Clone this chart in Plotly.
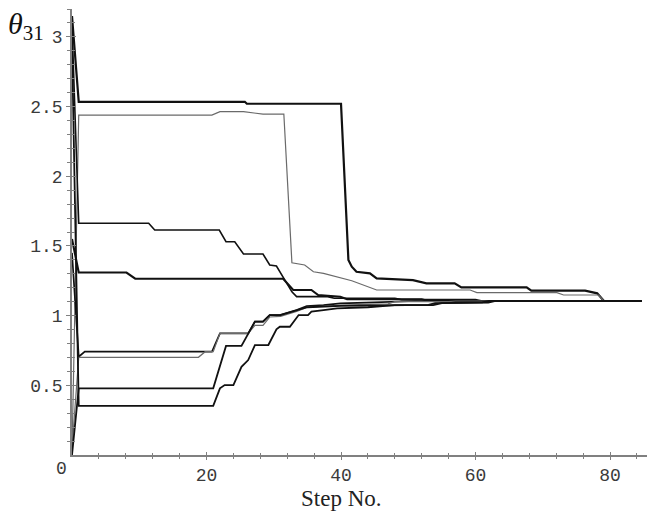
import plotly.graph_objects as go

# ---- data (step number, theta_31) ----
s1_x = [0, 1, 25.7, 26, 40, 41.1, 41.6, 42.3, 44.3, 45.3, 50.7, 52.7, 56.9, 57.9, 67.6, 68.3, 76.3, 78.1, 79.1, 84.7]
s1_y = [3.15, 2.534, 2.534, 2.52, 2.52, 1.40, 1.351, 1.315, 1.303, 1.267, 1.255, 1.232, 1.232, 1.203, 1.203, 1.179, 1.179, 1.16, 1.105, 1.105]

s2_x = [0, 1, 20.8, 22, 25.5, 28.4, 31.5, 32.7, 34.6, 35.9, 37.4, 40.1, 41.6, 45.3, 59.2, 60.2, 72.1, 73.1, 78.3, 79.1, 84.7]
s2_y = [0.02, 2.439, 2.439, 2.463, 2.463, 2.446, 2.446, 1.379, 1.363, 1.315, 1.303, 1.268, 1.25, 1.184, 1.184, 1.165, 1.165, 1.148, 1.148, 1.105, 1.105]

s3_x = [0, 1, 11.4, 12.3, 21.9, 22.9, 24.2, 25, 25.5, 28.4, 29.4, 30.4, 32.7, 33.4, 38, 39, 48, 49, 60, 61, 84.7]
s3_y = [3.08, 1.663, 1.663, 1.614, 1.614, 1.53, 1.53, 1.471, 1.442, 1.442, 1.363, 1.356, 1.171, 1.136, 1.136, 1.125, 1.125, 1.115, 1.115, 1.105, 1.105]

s4_x = [0, 1, 8.1, 9.4, 31.4, 32.9, 35.6, 36.6, 39.9, 40.9, 52, 53, 84.7]
s4_y = [1.55, 1.309, 1.309, 1.265, 1.265, 1.184, 1.184, 1.148, 1.136, 1.118, 1.118, 1.105, 1.105]

s5_x = [0, 1, 1.9, 20.8, 22, 26.2, 27.2, 28.4, 29.4, 30.9, 33.4, 34.9, 37.4, 39.9, 45, 50, 51, 84.7]
s5_y = [1.45, 0.705, 0.741, 0.741, 0.873, 0.873, 0.957, 0.957, 1.004, 1.004, 1.04, 1.069, 1.076, 1.088, 1.095, 1.10, 1.105, 1.105]

s6_x = [0, 1, 18.8, 19.8, 21, 22, 26.2, 27.2, 28.4, 29.4, 31, 33.4, 35, 40, 47, 48, 56, 57, 84.7]
s6_y = [0.05, 0.701, 0.701, 0.741, 0.741, 0.873, 0.873, 0.93, 0.93, 0.99, 0.995, 1.03, 1.06, 1.075, 1.085, 1.10, 1.10, 1.105, 1.105]

s7_x = [0, 1, 21, 22.9, 25.2, 26.2, 27.2, 28.4, 29.4, 31, 33.4, 35, 40, 53, 54, 61, 62, 84.7]
s7_y = [0.0, 0.478, 0.478, 0.783, 0.783, 0.873, 0.957, 0.957, 1.004, 1.004, 1.04, 1.06, 1.07, 1.077, 1.09, 1.095, 1.105, 1.105]

s8_x = [0, 1, 21, 22, 22.7, 24, 25.2, 26.2, 27.2, 29.2, 30.4, 30.9, 32.4, 33.7, 35.1, 35.6, 37.4, 39.4, 44, 48, 53.7, 55, 61.9, 63, 84.7]
s8_y = [2.95, 0.352, 0.352, 0.478, 0.502, 0.502, 0.633, 0.681, 0.789, 0.789, 0.902, 0.92, 0.92, 1.004, 1.004, 1.028, 1.04, 1.052, 1.06, 1.075, 1.075, 1.09, 1.093, 1.105, 1.105]

series = [
    (s1_x, s1_y, "#111111", 2.2),
    (s2_x, s2_y, "#6a6a6a", 1.2),
    (s3_x, s3_y, "#111111", 1.6),
    (s4_x, s4_y, "#111111", 2.1),
    (s5_x, s5_y, "#111111", 1.7),
    (s6_x, s6_y, "#6a6a6a", 1.2),
    (s7_x, s7_y, "#111111", 1.8),
    (s8_x, s8_y, "#111111", 1.8),
]

x_ticks = [20, 40, 60, 80]
y_ticks = [0.5, 1, 1.5, 2, 2.5, 3]
y_tick_text = ["0.5", "1", "1.5", "2", "2.5", "3"]

fig = go.Figure()
for xs, ys, col, w in series:
    fig.add_trace(go.Scatter(x=xs, y=ys, mode="lines",
                             line=dict(color=col, width=w),
                             showlegend=False, hoverinfo="skip",
                             cliponaxis=False))

axis_col = "#808080"
mono = dict(family="Liberation Mono, Courier New, monospace", size=18, color="#3a3a3a")
x_minor = [v for v in range(4, 85, 4)]
y_minor = [round(v * 0.1, 1) for v in range(1, 33)]

fig.update_layout(
    width=653, height=515,
    margin=dict(l=72, r=6, t=9, b=60),
    paper_bgcolor="white", plot_bgcolor="white",
    xaxis=dict(range=[0, 85.5], showgrid=False, zeroline=False,
               showline=True, linecolor=axis_col, linewidth=1.5,
               ticks="outside", ticklen=3, tickwidth=1, tickcolor=axis_col,
               tickvals=x_ticks, ticktext=[str(v) for v in x_ticks],
               tickfont=mono,
               minor=dict(tickvals=x_minor, ticks="outside",
                          ticklen=2, tickwidth=1, tickcolor=axis_col)),
    yaxis=dict(range=[0, 3.2], showgrid=False, zeroline=False,
               showline=True, linecolor=axis_col, linewidth=1.5,
               ticks="outside", ticklen=4, tickwidth=1, tickcolor=axis_col,
               tickvals=y_ticks, ticktext=y_tick_text,
               tickfont=mono,
               minor=dict(tickvals=y_minor, ticks="outside",
                          ticklen=3, tickwidth=1, tickcolor=axis_col)),
    xaxis2=dict(range=[0, 85.5], overlaying="x", anchor="y", side="bottom",
                showgrid=False, zeroline=False, showline=False, showticklabels=False,
                ticks="inside", ticklen=3, tickwidth=1, tickcolor=axis_col,
                tickvals=x_ticks,
                minor=dict(tickvals=x_minor, ticks="inside",
                           ticklen=2, tickwidth=1, tickcolor=axis_col)),
    yaxis2=dict(range=[0, 3.2], overlaying="y", anchor="x", side="left",
                showgrid=False, zeroline=False, showline=False, showticklabels=False,
                ticks="inside", ticklen=4, tickwidth=1, tickcolor=axis_col,
                tickvals=y_ticks,
                minor=dict(tickvals=y_minor, ticks="inside",
                           ticklen=3, tickwidth=1, tickcolor=axis_col)),
)

# invisible helper trace so the overlay tick axes are drawn
fig.add_trace(go.Scatter(x=[None], y=[None], xaxis="x2", yaxis="y2", mode="lines",
                         showlegend=False, hoverinfo="skip"))

fig.add_annotation(x=0, y=0, xref="x", yref="y", text="0", showarrow=False,
                   xanchor="center", yanchor="top", xshift=-11, yshift=-2,
                   font=mono)
fig.add_annotation(x=40, y=0, xref="x", yref="y", text="Step No.", showarrow=False,
                   xanchor="center", yanchor="top", yshift=-29,
                   font=dict(family="Liberation Serif, Times New Roman, serif", size=23, color="#222222"))
fig.add_annotation(x=0, y=3.2, xref="x", yref="y", text="<i>θ</i><sub>31</sub>", showarrow=False,
                   xanchor="right", yanchor="top", xshift=-26, yshift=4,
                   font=dict(family="Liberation Serif, Times New Roman, serif", size=30, color="#111111"))

fig.write_html("out.html", post_script="document.body.style.margin='0';",
               config={"displayModeBar": False})
